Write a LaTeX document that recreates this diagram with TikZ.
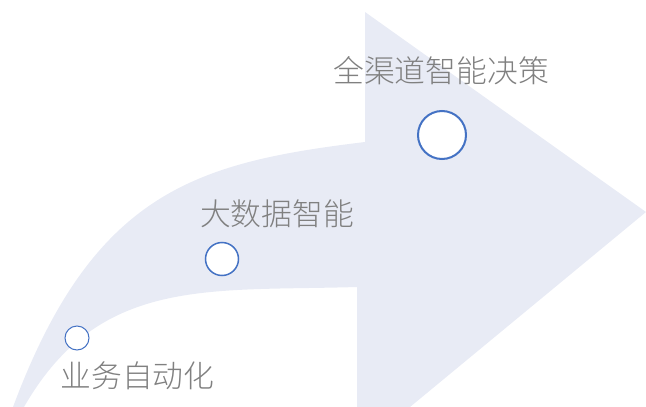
\documentclass[tikz,border=0pt]{standalone}
\usepackage{fontspec}
\newfontfamily\cjk{Noto Sans CJK SC}[UprightFont=* Light]
\definecolor{arrowfill}{HTML}{E8EBF5}
\definecolor{ringblue}{HTML}{4472C4}
\definecolor{labelgray}{HTML}{808080}
\tikzset{
  stage/.style={circle, draw=ringblue, fill=white, inner sep=0pt},
  label/.style={inner sep=0pt, text=labelgray, font=\cjk\fontsize{30.8}{31}\selectfont}
}
\begin{document}
\begin{tikzpicture}[x=1pt,y=-1pt]
\useasboundingbox (0,0) rectangle (646,407);
% curved arrow
\fill[arrowfill] (13,407)
  .. controls (93.5,191) and (196.7,162.4) .. (365,142)
  -- (365,12) -- (646,212) -- (410,407) -- (357,407) -- (357,287)
  .. controls (207,291.5) and (99,276.5) .. (24,407)
  -- cycle;
% stages
\node[stage, line width=1pt, minimum size=24pt] (s1) at (77,338) {};
\node[stage, line width=1.5pt, minimum size=33pt] (s2) at (222,259) {};
\node[stage, line width=2pt, minimum size=48pt] (s3) at (442,135) {};
% labels
\node[label] (l1) at (137.5,376) {业务自动化};
\node[label] (l2) at (277,214) {大数据智能};
\node[label] (l3) at (441,71) {全渠道智能决策};
\end{tikzpicture}
\end{document}
